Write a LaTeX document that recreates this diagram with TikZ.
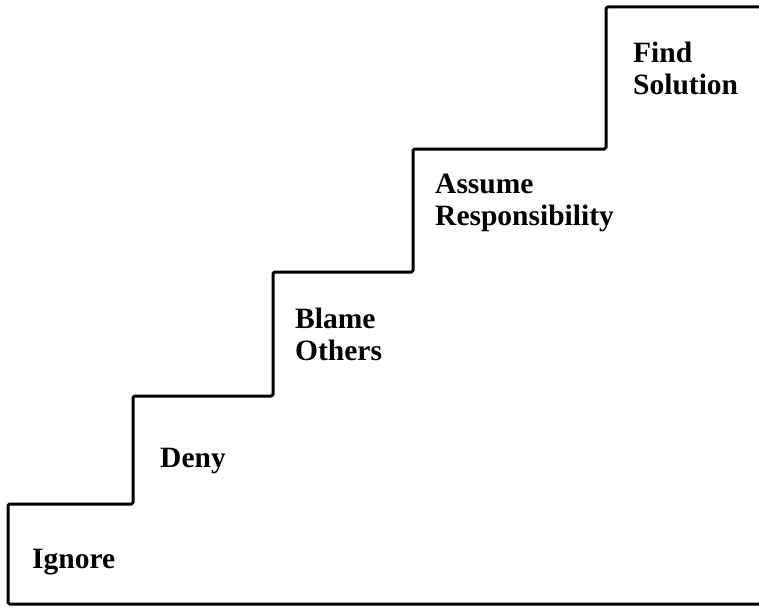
\documentclass[tikz,border=0pt]{standalone}
\usepackage{fontspec}
\setmainfont{Liberation Serif}
\begin{document}
\begin{tikzpicture}[x=1pt,y=-1pt,
  stairline/.style={line width=3pt,line join=round,rounded corners=1.5pt},
  steplabel/.style={anchor=base west,inner sep=0pt,
    font=\fontsize{29.5}{32}\selectfont\bfseries}]
  \useasboundingbox (0,0) rectangle (759,607);
  % outline of the staircase
  \coordinate (bl) at (8,604);
  \coordinate (br) at (759,604);
  \coordinate (tr) at (759,7);
  \draw[stairline] (br) -- (bl) -- (8,504) -- (133,504) -- (133,396)
    -- (273,396) -- (273,272) -- (413,272) -- (413,149)
    -- (606,149) -- (606,7) -- (tr);
  % one label on each step
  \node[steplabel] (ignore) at (32,568) {Ignore};
  \node[steplabel] (deny) at (160,467) {Deny};
  \node[steplabel] (blame) at (295,328) {Blame};
  \node[steplabel] (others) at (295,360) {Others};
  \node[steplabel] (assume) at (435,193) {Assume};
  \node[steplabel] (resp) at (435,225) {Responsibility};
  \node[steplabel] (find) at (633,63) {Find};
  \node[steplabel] (solution) at (633,95) {Solution};
\end{tikzpicture}
\end{document}
